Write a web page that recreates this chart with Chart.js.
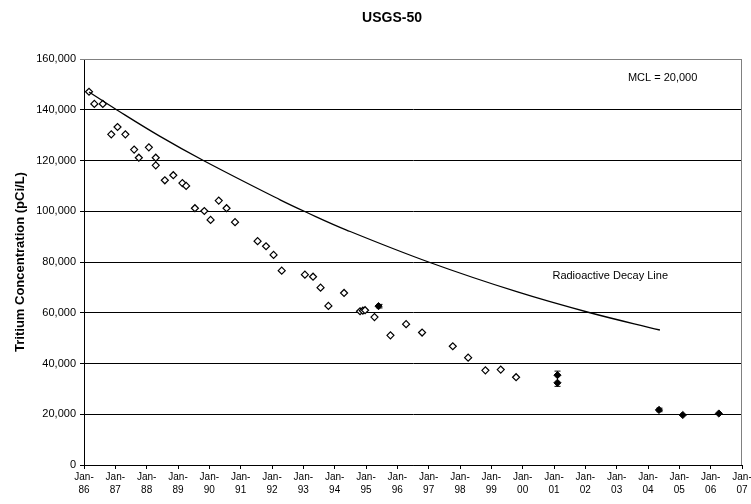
<!DOCTYPE html>
<html>
<head>
<meta charset="utf-8">
<title>USGS-50</title>
<script src="https://cdn.jsdelivr.net/npm/chart.js@4.4.1/dist/chart.umd.min.js"></script>
<style>
  html, body { margin: 0; padding: 0; background: #fff; }
  #wrap { width: 751px; height: 504px; }
</style>
</head>
<body>
<div id="wrap"><canvas id="chart"></canvas></div>
<script>
/* ── data ── */
const tickYears = ['86','87','88','89','90','91','92','93','94','95','96','97','98','99','00','01','02','03','04','05','06','07'];

const openYears = [1986.16,1986.33,1986.60,1986.87,1987.07,1987.32,1987.60,1987.75,1988.07,1988.29,
                   1988.29,1988.58,1988.85,1989.14,1989.26,1989.54,1989.84,1990.04,1990.30,1990.55,
                   1990.82,1991.54,1991.81,1992.05,1992.31,1993.05,1993.31,1993.55,1993.80,1994.30,
                   1994.81,1994.90,1994.97,1995.27,1995.78,1996.28,1996.79,1997.77,1998.26,1998.81,
                   1999.30,1999.79];
const openValues = [147100,142300,142300,130300,133200,130300,124300,121100,125200,121100,
                    118100,112200,114200,111100,110000,101200,100100,96600,104200,101200,
                    95700,88200,86200,82800,76600,75000,74200,69900,62700,67800,
                    60600,60800,61000,58300,51100,55500,52200,46800,42300,37300,
                    37600,34600];

const filledYears   = [1995.40, 2001.11, 2001.11, 2004.35, 2005.11, 2006.26];
const filledValues  = [62600, 35400, 32400, 21700, 19700, 20300];
const filledErrLow  = [61900, 31000, null, 21000, null, null];
const filledErrHigh = [63300, 37000, null, 22400, null, null];

const decayYears  = [1986.16, 1987.04, 1988.40, 1989.81, 1992.26, 1993.08, 1994.38, 1997.04, 1999.81, 2002.15, 2004.38];
const decayValues = [147000, 140000, 129700, 120000, 104500, 99700, 92600, 79800, 68300, 60000, 53200];

const FONT = "'Liberation Sans', Arial, sans-serif";
Chart.defaults.font.family = FONT;
Chart.defaults.color = '#000';

const pts = (xs, ys) => xs.map((x, i) => ({ x, y: ys[i] }));

/* ── error bars, title and text notes ── */
const extras = {
  id: 'extras',
  afterDatasetsDraw(chart) {
    const { ctx, scales: { x, y } } = chart;
    ctx.save();
    ctx.strokeStyle = '#000';
    ctx.lineWidth = 1;
    filledYears.forEach((yr, i) => {
      if (filledErrLow[i] == null) return;
      const px = Math.round(x.getPixelForValue(yr)) + 0.5;
      const y1 = y.getPixelForValue(filledErrHigh[i]);
      const y2 = y.getPixelForValue(filledErrLow[i]);
      ctx.beginPath();
      ctx.moveTo(px, y1); ctx.lineTo(px, y2);
      ctx.moveTo(px - 3, y1); ctx.lineTo(px + 3, y1);
      ctx.moveTo(px - 3, y2); ctx.lineTo(px + 3, y2);
      ctx.stroke();
    });
    ctx.fillStyle = '#000';
    ctx.font = '11px ' + FONT;
    ctx.textBaseline = 'middle';
    ctx.textAlign = 'left';
    ctx.fillText('MCL = 20,000', x.getPixelForValue(2003.36), y.getPixelForValue(152500));
    ctx.fillText('Radioactive Decay Line', x.getPixelForValue(2000.95), y.getPixelForValue(74600));
    ctx.font = 'bold 14px ' + FONT;
    ctx.textAlign = 'center';
    ctx.fillText('USGS-50', 392, 18);
    ctx.restore();
  },
  beforeDatasetsDraw(chart) {
    const { ctx, chartArea: a } = chart;
    ctx.save();
    ctx.strokeStyle = '#808080';
    ctx.lineWidth = 1;
    ctx.beginPath();
    ctx.moveTo(a.left, a.top + 0.5); ctx.lineTo(a.right - 0.5, a.top + 0.5); ctx.lineTo(a.right - 0.5, a.bottom);
    ctx.stroke();
    ctx.restore();
  }
};

new Chart(document.getElementById('chart'), {
  type: 'scatter',
  data: {
    datasets: [
      {
        type: 'line',
        label: 'Radioactive Decay Line',
        data: pts(decayYears, decayValues),
        borderColor: '#000',
        borderWidth: 1.3,
        pointRadius: 0,
        tension: 0.4,
        fill: false,
      },
      {
        label: 'Measured',
        data: pts(openYears, openValues),
        pointStyle: 'rectRot',
        pointRadius: 3.5,
        backgroundColor: '#fff',
        borderColor: '#000',
        borderWidth: 1.2,
      },
      {
        label: 'Measured (filled)',
        data: pts(filledYears, filledValues),
        pointStyle: 'rectRot',
        pointRadius: 3.6,
        backgroundColor: '#000',
        borderColor: '#000',
        borderWidth: 1,
      }
    ]
  },
  options: {
    responsive: true, maintainAspectRatio: false, animation: false,
    layout: { padding: { top: 59, right: 9, left: 0, bottom: 0 } },
    scales: {
      x: {
        type: 'linear', min: 1986, max: 2007,
        afterFit: s => { s.height = 39; s.paddingLeft = 0; s.paddingRight = 0; },
        afterBuildTicks: s => { s.ticks = tickYears.map((t, i) => ({ value: 1986 + i })); },
        ticks: {
          autoSkip: false, maxRotation: 0, padding: 2,
          font: { size: 10, lineHeight: 1.25 }, color: '#000',
          callback: (v, i) => ['Jan-', tickYears[i]]
        },
        grid: { drawOnChartArea: false, drawTicks: true, tickLength: 4, color: '#000' },
        border: { color: '#000', width: 1 }
      },
      y: {
        min: 0, max: 160000,
        afterFit: s => { s.width = 84; },
        ticks: {
          stepSize: 20000, padding: 4, font: { size: 11 }, color: '#000',
          callback: v => v.toLocaleString('en-US')
        },
        grid: {
          color: c => (c.tick && c.tick.value === 160000) ? '#808080' : '#000',
          lineWidth: 1, tickLength: 4
        },
        border: { color: '#000', width: 1 },
        title: {
          display: true, text: 'Tritium Concentration (pCi/L)',
          font: { size: 13, weight: 'bold' }, color: '#000', padding: { top: 13, bottom: 0 }
        }
      }
    },
    plugins: { legend: { display: false }, tooltip: { enabled: false }, title: { display: false } }
  },
  plugins: [extras]
});
</script>
</body>
</html>
